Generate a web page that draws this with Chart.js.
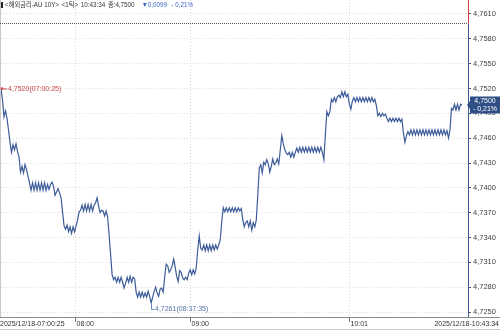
<!DOCTYPE html>
<html><head><meta charset="utf-8">
<script src="https://cdn.jsdelivr.net/npm/chart.js@4"></script>
<style>html,body{margin:0;padding:0;background:#fff}#wrap{width:500px;height:330px;position:relative}</style>
</head><body><div id="wrap"><canvas id="c" width="500" height="330"></canvas></div>
<script>
// ---- data (tick chart, one value per trade tick) ----
const yields = [
4.7520,4.7506,4.7486,4.7493,4.7484,4.7470,4.7455,4.7443,4.7452,4.7446,
4.7453,4.7444,4.7437,4.7419,4.7426,4.7418,4.7428,4.7422,4.7414,4.7406,
4.7397,4.7406,4.7397,4.7406,4.7397,4.7406,4.7397,4.7406,4.7397,4.7406,
4.7397,4.7404,4.7398,4.7404,4.7407,4.7402,4.7391,4.7395,4.7399,4.7394,
4.7388,4.7371,4.7354,4.7350,4.7355,4.7347,4.7353,4.7345,4.7353,4.7347,
4.7354,4.7361,4.7371,4.7373,4.7379,4.7372,4.7380,4.7372,4.7380,4.7372,
4.7380,4.7372,4.7379,4.7382,4.7388,4.7378,4.7370,4.7373,4.7372,4.7366,
4.7372,4.7365,4.7343,4.7319,4.7295,4.7289,4.7292,4.7286,4.7292,4.7286,
4.7292,4.7286,4.7279,4.7285,4.7292,4.7286,4.7293,4.7286,4.7292,4.7290,
4.7274,4.7268,4.7274,4.7268,4.7274,4.7268,4.7273,4.7268,4.7275,4.7269,
4.7261,4.7268,4.7275,4.7280,4.7273,4.7269,4.7278,4.7279,4.7274,4.7292,
4.7308,4.7306,4.7298,4.7301,4.7306,4.7314,4.7304,4.7293,4.7287,4.7300,
4.7298,4.7291,4.7289,4.7292,4.7289,4.7297,4.7301,4.7295,4.7301,4.7296,
4.7303,4.7325,4.7342,4.7327,4.7325,4.7331,4.7324,4.7331,4.7324,4.7331,
4.7324,4.7331,4.7325,4.7331,4.7326,4.7331,4.7337,4.7359,4.7376,4.7371,
4.7376,4.7371,4.7376,4.7371,4.7376,4.7371,4.7376,4.7371,4.7376,4.7372,
4.7375,4.7362,4.7353,4.7358,4.7360,4.7353,4.7360,4.7349,4.7358,4.7353,
4.7361,4.7391,4.7424,4.7428,4.7418,4.7431,4.7428,4.7434,4.7429,4.7419,
4.7426,4.7435,4.7428,4.7430,4.7435,4.7429,4.7446,4.7463,4.7453,4.7446,
4.7442,4.7440,4.7443,4.7437,4.7443,4.7437,4.7443,4.7448,4.7443,4.7449,
4.7443,4.7449,4.7443,4.7449,4.7443,4.7449,4.7443,4.7449,4.7443,4.7449,
4.7443,4.7449,4.7443,4.7449,4.7443,4.7434,4.7464,4.7492,4.7487,4.7492,
4.7507,4.7504,4.7509,4.7504,4.7510,4.7512,4.7509,4.7516,4.7510,4.7516,
4.7510,4.7513,4.7501,4.7495,4.7505,4.7509,4.7504,4.7509,4.7504,4.7509,
4.7504,4.7509,4.7504,4.7509,4.7504,4.7509,4.7504,4.7509,4.7504,4.7507,
4.7499,4.7487,4.7490,4.7486,4.7490,4.7487,4.7489,4.7484,4.7480,4.7484,
4.7480,4.7484,4.7480,4.7484,4.7480,4.7484,4.7480,4.7483,4.7466,4.7455,
4.7463,4.7468,4.7464,4.7470,4.7464,4.7470,4.7464,4.7470,4.7464,4.7470,
4.7464,4.7470,4.7464,4.7470,4.7464,4.7470,4.7464,4.7470,4.7464,4.7470,
4.7464,4.7470,4.7464,4.7470,4.7464,4.7470,4.7464,4.7469,4.7460,4.7470,
4.7496,4.7494,4.7501,4.7494,4.7501,4.7494,4.7501,4.7500
];
const timeTickIndex  = [49, 126, 232];
const timeTickLabels = ['08:00', '09:00', '10:01'];
const startStamp = '2025/12/18-07:00:25';
const endStamp   = '2025/12/18-10:43:34';
const highTime = '07:00:25';
const lowTime  = '08:37:35';
const yTickValues = [4.7250,4.7280,4.7310,4.7340,4.7370,4.7400,4.7430,4.7460,4.7490,4.7520,4.7550,4.7580,4.7610];
const prevClose = 4.7599;
const lastTime = '10:43:34';
const changeAbs = 0.0099;
const changePct = 0.21;
const symbolText = '<해외금리-AU 10Y>';
const periodText = '<1틱>';
const emptySlots = 4; // blank ticks after the last trade
const categories = yields.map((_, i) => String(i)).concat(Array(emptySlots).fill(''));

const fmt = v => v.toFixed(4).replace('.', ',');
const FONT = "'Liberation Sans', Arial, 'Noto Sans CJK KR', 'DejaVu Sans', sans-serif";
const LINE = '#3d5c9a';

const deco = {
  id: 'deco',
  beforeDatasetsDraw(chart) {
    const {ctx, chartArea: a, scales: {x}} = chart;
    ctx.save();
    ctx.strokeStyle = '#d6d6d6'; ctx.lineWidth = 1; ctx.setLineDash([1, 2]);
    timeTickIndex.forEach(i => {
      const px = Math.round(x.getPixelForValue(i)) + 0.5;
      ctx.beginPath(); ctx.moveTo(px, a.top); ctx.lineTo(px, a.bottom); ctx.stroke();
    });
    ctx.restore();
  },
  afterDraw(chart) {
    const {ctx, chartArea: a, scales: {x, y}} = chart;
    const W = chart.width, H = chart.height;
    ctx.save();
    // frame
    ctx.strokeStyle = '#c8c8c8'; ctx.lineWidth = 1;
    ctx.beginPath(); ctx.moveTo(0.5, 0); ctx.lineTo(0.5, a.bottom); ctx.stroke();
    ctx.beginPath(); ctx.moveTo(0, H - 0.5); ctx.lineTo(W, H - 0.5); ctx.stroke();
    ctx.strokeStyle = '#8a8a8a';
    ctx.beginPath(); ctx.moveTo(0, a.bottom + 0.5); ctx.lineTo(W, a.bottom + 0.5); ctx.stroke();
    // previous close line
    const yp = Math.round(y.getPixelForValue(prevClose)) + 0.5;
    ctx.strokeStyle = '#555'; ctx.setLineDash([1, 1]);
    ctx.beginPath(); ctx.moveTo(0, yp); ctx.lineTo(a.right, yp); ctx.stroke();
    ctx.setLineDash([]);
    // right axis (red above previous close, blue below)
    const ax = a.right + 0.5;
    ctx.strokeStyle = '#d43c3c';
    ctx.beginPath(); ctx.moveTo(ax, 0); ctx.lineTo(ax, yp); ctx.stroke();
    ctx.strokeStyle = LINE;
    ctx.beginPath(); ctx.moveTo(ax, yp); ctx.lineTo(ax, a.bottom); ctx.stroke();
    // x ticks & labels
    ctx.font = '7px ' + FONT; ctx.fillStyle = '#333'; ctx.textBaseline = 'middle';
    ctx.strokeStyle = '#777';
    timeTickIndex.forEach((i, k) => {
      const px = Math.round(x.getPixelForValue(i)) + 0.5;
      ctx.beginPath(); ctx.moveTo(px, a.bottom); ctx.lineTo(px, a.bottom + 5); ctx.stroke();
      ctx.textAlign = 'left'; ctx.fillText(timeTickLabels[k], px + 1, a.bottom + 7);
    });
    ctx.textAlign = 'left'; ctx.fillText(startStamp, 0, a.bottom + 7);
    ctx.textAlign = 'right'; ctx.fillText(endStamp, W - 1, a.bottom + 7);
    // header (condensed to the reference's width)
    ctx.fillStyle = '#222'; ctx.fillRect(1, 2, 2, 6);
    ctx.textAlign = 'left'; ctx.textBaseline = 'middle';
    ctx.font = '7px ' + FONT;
    const last = yields[yields.length - 1];
    const parts = [
      [symbolText, '#333', 3], [periodText, '#333', 3], [lastTime, '#333', 3], ['종:' + fmt(last), '#333', 8],
      ['▼' + fmt(changeAbs), '#3a64c8', 5], ['- ' + changePct.toFixed(2).replace('.', ',') + '%', '#3a64c8', 0]
    ];
    let total = 0; parts.forEach(p => total += ctx.measureText(p[0]).width + p[2]);
    const sx = 188 / total;
    ctx.save(); ctx.translate(5, 0); ctx.scale(sx, 1);
    let hx = 0;
    parts.forEach(p => { ctx.fillStyle = p[1]; ctx.fillText(p[0], hx, 5.5); hx += ctx.measureText(p[0]).width + p[2]; });
    ctx.restore();
    // high annotation
    ctx.font = '7px ' + FONT;
    const hi = Math.max(...yields), hiIdx = yields.indexOf(hi);
    const hpx = x.getPixelForValue(hiIdx), hpy = y.getPixelForValue(hi);
    ctx.strokeStyle = '#cc4444'; ctx.fillStyle = '#cc4444';
    ctx.beginPath(); ctx.moveTo(hpx, hpy + 0.5); ctx.lineTo(hpx + 6, hpy + 0.5); ctx.stroke();
    ctx.beginPath(); ctx.arc(hpx + 1, hpy, 1.3, 0, Math.PI * 2); ctx.fill();
    ctx.fillText(fmt(hi) + '(' + highTime + ')', hpx + 7, hpy + 0.5);
    // low annotation
    const lo = Math.min(...yields), loIdx = yields.indexOf(lo);
    const lpx = Math.round(x.getPixelForValue(loIdx)) + 0.5, lpy = y.getPixelForValue(lo);
    ctx.strokeStyle = '#6a86bb'; ctx.fillStyle = '#5873aa';
    ctx.beginPath(); ctx.moveTo(lpx, lpy + 1); ctx.lineTo(lpx, lpy + 6.5); ctx.lineTo(lpx + 3, lpy + 6.5); ctx.stroke();
    ctx.fillText(fmt(lo) + '(' + lowTime + ')', lpx + 3.5, lpy + 6.5);
    // last price box
    const ly = y.getPixelForValue(last);
    ctx.fillStyle = '#2f4e85';
    ctx.beginPath();
    ctx.moveTo(a.right - 1, ly);
    ctx.lineTo(a.right + 2, ly - 4);
    ctx.lineTo(a.right + 2, ly - 8.5);
    ctx.lineTo(W, ly - 8.5);
    ctx.lineTo(W, ly + 8.5);
    ctx.lineTo(a.right + 2, ly + 8.5);
    ctx.lineTo(a.right + 2, ly + 4);
    ctx.closePath(); ctx.fill();
    ctx.fillStyle = '#fff'; ctx.textAlign = 'center'; ctx.font = '7px ' + FONT;
    const cx = (a.right + 2 + W) / 2;
    ctx.fillText(fmt(last), cx, ly - 3.5);
    ctx.fillText('- ' + changePct.toFixed(2).replace('.', ',') + '%', cx, ly + 4);
    ctx.restore();
  }
};

new Chart(document.getElementById('c').getContext('2d'), {
  type: 'line',
  data: {
    labels: categories,
    datasets: [{data: yields, borderColor: LINE, borderWidth: 1.2, pointRadius: 0, tension: 0, fill: false}]
  },
  options: {
    responsive: false, animation: false, devicePixelRatio: 1,
    layout: {padding: {left: 1, right: 0, top: 0, bottom: 13}},
    plugins: {legend: {display: false}, tooltip: {enabled: false}},
    scales: {
      x: {display: false},
      y: {
        position: 'right', min: 4.72440, max: 4.76269,
        afterBuildTicks: s => { s.ticks = yTickValues.map(v => ({value: v})); },
        afterFit: s => { s.width = 32; s.paddingTop = 0; s.paddingBottom = 0; },
        ticks: {callback: v => fmt(v), color: '#444', font: {family: FONT, size: 7.5}, padding: 2, autoSkip: false},
        grid: {color: '#dcdcdc', tickColor: '#555', tickLength: 3, lineWidth: 1},
        border: {display: false, dash: [1, 2]}
      }
    }
  },
  plugins: [deco]
});
</script>
</body></html>
